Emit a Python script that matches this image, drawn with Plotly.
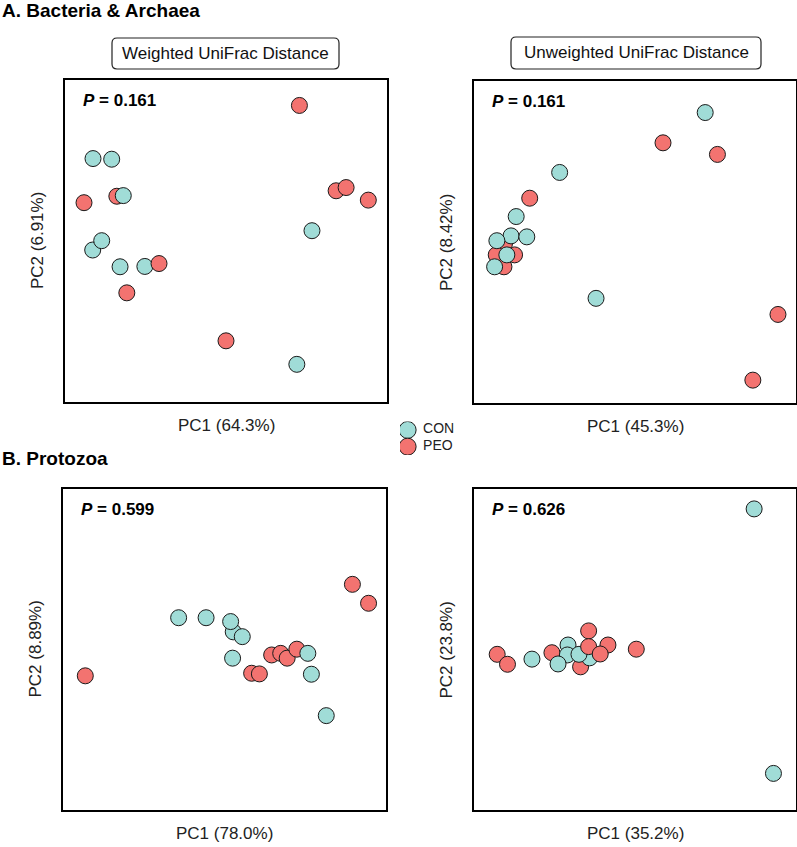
import plotly.graph_objects as go

# PCoA scores (arbitrary units, 0-100 across each frame)
# points listed in drawing order so overlaps look like the original

# A. Bacteria & Archaea - weighted UniFrac
wu_x = [72.8, 16.1, 5.9, 84.2, 87.3, 94.2, 19.2, 50.0,
        8.7, 14.5, 18.1, 76.7, 8.6, 11.4, 17.1, 24.8, 72.0, 29.2]
wu_y = [92.1, 63.9, 61.9, 65.6, 66.6, 62.7, 33.9, 19.0,
        75.6, 75.4, 64.1, 53.2, 47.2, 50.1, 42.0, 42.1, 11.7, 43.0]
wu_grp = ["PEO"] * 8 + ["CON"] * 9 + ["PEO"]

# A. Bacteria & Archaea - unweighted UniFrac
uu_x = [58.7, 75.6, 17.3, 9.5, 6.9, 12.6, 9.3, 94.4, 86.6,
        71.8, 26.6, 13.1, 11.5, 16.4, 7.1, 10.2, 6.4, 37.9]
uu_y = [80.8, 77.2, 63.6, 49.6, 46.0, 46.0, 42.3, 27.5, 7.1,
        90.2, 71.6, 57.9, 51.9, 51.6, 50.4, 46.0, 42.3, 32.5]
uu_grp = ["PEO"] * 9 + ["CON"] * 9

# B. Protozoa - PC1 78.0%
pw_x = [6.9, 58.4, 60.8, 64.6, 67.4, 69.4, 72.4, 89.6, 94.6,
        35.8, 44.3, 52.7, 55.5, 51.9, 52.5, 75.8, 76.9, 81.5]
pw_y = [41.8, 42.6, 42.4, 48.3, 48.8, 47.3, 50.1, 70.3, 64.4,
        59.9, 59.9, 55.5, 54.0, 58.7, 47.3, 48.8, 42.3, 29.4]
pw_grp = ["PEO"] * 9 + ["CON"] * 9

# B. Protozoa - PC1 35.2%
pu_x = [7.2, 10.4, 18.0, 24.2, 29.2, 29.0, 26.1, 33.1, 35.9, 32.6,
        35.6, 35.6, 41.6, 39.2, 50.4, 87.0, 93.0]
pu_y = [48.5, 45.4, 47.0, 49.0, 51.4, 48.3, 45.5, 44.6, 47.4, 48.5,
        55.8, 50.9, 51.4, 48.6, 50.1, 93.8, 11.4]
pu_grp = ["PEO", "PEO", "CON", "PEO", "CON", "CON", "CON", "PEO", "CON", "CON",
          "PEO", "PEO", "PEO", "PEO", "PEO", "CON", "CON"]

p_values = ["0.161", "0.161", "0.599", "0.626"]
x_labels = ["PC1 (64.3%)", "PC1 (45.3%)", "PC1 (78.0%)", "PC1 (35.2%)"]
y_labels = ["PC2 (6.91%)", "PC2 (8.42%)", "PC2 (8.89%)", "PC2 (23.8%)"]
groups = ["CON", "PEO"]

W, H = 797, 847
FONT = "Liberation Sans, Arial, sans-serif"
COLORS = {"CON": "#a0dcd7", "PEO": "#f37370"}


def px(v):
    return v / W


def py(v):
    return 1 - v / H


def rounded_box(x0, y0, x1, y1, r=5):
    """rounded rectangle path in paper coords, from pixel corners"""
    rx, ry = r / W, r / H
    a, b, c, d = px(x0), py(y0), px(x1), py(y1)
    return (f"M {a+rx},{b} L {c-rx},{b} Q {c},{b} {c},{b-ry} "
            f"L {c},{d+ry} Q {c},{d} {c-rx},{d} L {a+rx},{d} "
            f"Q {a},{d} {a},{d+ry} L {a},{b-ry} Q {a},{b} {a+rx},{b} Z")


# frame of each panel in pixels: left, top, right, bottom
frames = [(65, 80, 387, 402), (474, 81, 796, 403),
          (63, 489, 386, 810), (474, 489, 796, 810)]
data = [(wu_x, wu_y, wu_grp), (uu_x, uu_y, uu_grp),
        (pw_x, pw_y, pw_grp), (pu_x, pu_y, pu_grp)]

fig = go.Figure()
annotations = []
layout = {}

for i, ((xs, ys, grp), (l, t, r, b)) in enumerate(zip(data, frames), start=1):
    sx = "" if i == 1 else str(i)
    fig.add_trace(go.Scatter(
        x=xs, y=ys, mode="markers",
        marker=dict(size=16, color=[COLORS[g] for g in grp],
                    line=dict(color="#1a1a1a", width=1)),
        xaxis="x" + sx, yaxis="y" + sx,
        showlegend=False, hoverinfo="skip",
    ))
    axis_style = dict(range=[0, 100], showline=True, mirror=True,
                      linecolor="black", linewidth=2, showgrid=False,
                      zeroline=False, showticklabels=False, ticks="",
                      fixedrange=True)
    layout["xaxis" + sx] = dict(domain=[px(l), px(r)], anchor="y" + sx, **axis_style)
    layout["yaxis" + sx] = dict(domain=[py(b), py(t)], anchor="x" + sx, **axis_style)

    # P value in the top-left corner
    annotations.append(dict(
        text=f"<b><i>P</i> = {p_values[i-1]}</b>",
        xref=f"x{sx} domain", yref=f"y{sx} domain", x=0.05, y=0.937,
        xanchor="left", yanchor="middle", showarrow=False,
        font=dict(size=17, color="black"),
    ))
    # axis titles
    annotations.append(dict(
        text=x_labels[i-1], xref="paper", yref="paper",
        x=px((l + r) / 2), y=py(b + 23), xanchor="center", yanchor="middle",
        showarrow=False, font=dict(size=17, color="#222"),
    ))
    annotations.append(dict(
        text=y_labels[i-1], xref="paper", yref="paper",
        x=px(l - 28), y=py((t + b) / 2), xanchor="center", yanchor="middle",
        textangle=-90, showarrow=False, font=dict(size=17, color="#222"),
    ))

# small shared legend, drawn on its own hidden axis
fig.add_trace(go.Scatter(
    x=[0] * len(groups), y=groups, mode="markers+text",
    text=["\u00a0" + g for g in groups], textposition="middle right",
    textfont=dict(size=14, color="#222"),
    marker=dict(size=17, color=[COLORS[g] for g in groups],
                line=dict(color="#1a1a1a", width=1)),
    xaxis="x5", yaxis="y5", showlegend=False, hoverinfo="skip",
))
layout["xaxis5"] = dict(domain=[px(400), px(470)], anchor="y5", range=[-0.11, 0.9],
                        visible=False, fixedrange=True)
layout["yaxis5"] = dict(domain=[py(455), py(421.6)], anchor="x5", range=[1.5, -0.5],
                        type="category", visible=False, fixedrange=True)

# section titles
annotations.append(dict(text="<b>A. Bacteria & Archaea</b>", xref="paper", yref="paper",
                        x=0, y=py(10), xanchor="left", yanchor="middle",
                        showarrow=False, font=dict(size=19, color="black")))
annotations.append(dict(text="<b>B. Protozoa</b>", xref="paper", yref="paper",
                        x=0, y=py(458), xanchor="left", yanchor="middle",
                        showarrow=False, font=dict(size=19, color="black")))

# boxed distance headers
boxes = [("Weighted UniFrac Distance", (112, 38, 339, 69)),
         ("Unweighted UniFrac Distance", (511, 37, 761, 69))]
shapes = []
for label, (x0, y0, x1, y1) in boxes:
    shapes.append(dict(type="path", path=rounded_box(x0, y0, x1, y1),
                       xref="paper", yref="paper",
                       line=dict(color="#222", width=1.2), fillcolor="white"))
    annotations.append(dict(text=label, xref="paper", yref="paper",
                            x=px((x0 + x1) / 2), y=py((y0 + y1) / 2),
                            xanchor="center", yanchor="middle", showarrow=False,
                            font=dict(size=17, color="#111")))

fig.update_layout(
    **layout,
    width=W, height=H,
    margin=dict(l=0, r=0, t=0, b=0),
    paper_bgcolor="white", plot_bgcolor="white",
    font=dict(family=FONT, color="black"),
    annotations=annotations, shapes=shapes,
    showlegend=False,
)

# drop the browser's default body margin so the figure fills the window
fig.write_html("out.html", config={"displayModeBar": False},
               post_script="document.body.style.margin = '0';")
